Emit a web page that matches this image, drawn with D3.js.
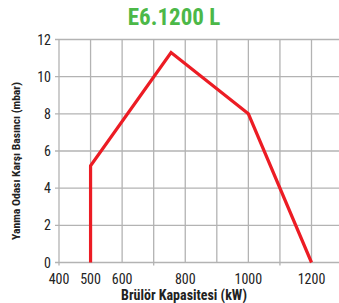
<!DOCTYPE html>
<html><head><meta charset="utf-8">
<script src="https://cdn.jsdelivr.net/npm/d3@7"></script>
<style>
html,body{margin:0;padding:0;background:#fff;}
svg{display:block;}
text{font-family:"Liberation Sans Narrow","Arial Narrow","Roboto Condensed","Liberation Sans",sans-serif;}
</style></head>
<body>
<svg id="c" width="339" height="303"></svg>
<script>
const title = "E6.1200 L";
const xTitle = "Brülör Kapasitesi (kW)";
const yTitle = "Yanma Odası Karşı Basıncı (mbar)";
const capacity = [500, 500, 755, 1000, 1200];
const pressure = [0, 5.2, 11.3, 8, 0];
const xGridTicks = [400, 500, 600, 700, 800, 900, 1000, 1100, 1200];
const xLabelTicks = [400, 500, 600, 800, 1000, 1200];
const yTicks = [0, 2, 4, 6, 8, 10, 12];
const xStubTicks = [400, 700, 1100];

const svg = d3.select("#c");
const x = d3.scaleLinear().domain([400, 1200]).range([59, 311.5]);
const y = d3.scaleLinear().domain([0, 12]).range([262.5, 39.5]);
const right = 339;
const grid = "#b3b3b3";

svg.append("g").selectAll("line").data(yTicks).join("line")
  .attr("x1", x(400) - 4).attr("x2", right)
  .attr("y1", d => y(d)).attr("y2", d => y(d))
  .attr("stroke", grid).attr("stroke-width", 1.3);
svg.append("g").selectAll("line").data(xGridTicks).join("line")
  .attr("x1", d => x(d)).attr("x2", d => x(d))
  .attr("y1", y(12)).attr("y2", y(0))
  .attr("stroke", grid).attr("stroke-width", 1.3);
svg.append("g").selectAll("line").data(xStubTicks).join("line")
  .attr("x1", d => x(d)).attr("x2", d => x(d))
  .attr("y1", y(0)).attr("y2", y(0) + 3)
  .attr("stroke", grid).attr("stroke-width", 1.3);

svg.append("g").selectAll("text").data(yTicks).join("text")
  .attr("x", 51).attr("y", d => y(d) + 5)
  .attr("text-anchor", "end").attr("font-size", 14).attr("fill", "#222")
  .text(d => d);
svg.append("g").selectAll("text").data(xLabelTicks).join("text")
  .attr("x", d => x(d)).attr("y", 284)
  .attr("text-anchor", "middle").attr("font-size", 14).attr("fill", "#222")
  .text(d => d);

const line = d3.line().x(d => x(d[0])).y(d => y(d[1]));
svg.append("path").datum(capacity.map((c, i) => [c, pressure[i]]))
  .attr("d", line).attr("fill", "none")
  .attr("stroke", "#ec1c24").attr("stroke-width", 3.2).attr("stroke-linejoin", "miter");

svg.append("text").attr("x", 174).attr("y", 25).attr("text-anchor", "middle")
  .attr("font-size", 23).attr("font-weight", "bold").attr("fill", "#4cb848").text(title);
svg.append("text").attr("x", 184).attr("y", 300).attr("text-anchor", "middle")
  .attr("font-size", 14).attr("font-weight", "bold").attr("fill", "#222").text(xTitle);
svg.append("text").attr("transform", "translate(20,161) rotate(-90)").attr("text-anchor", "middle")
  .attr("font-size", 11.6).attr("font-weight", "bold").attr("fill", "#222").text(yTitle);
</script>
</body></html>
